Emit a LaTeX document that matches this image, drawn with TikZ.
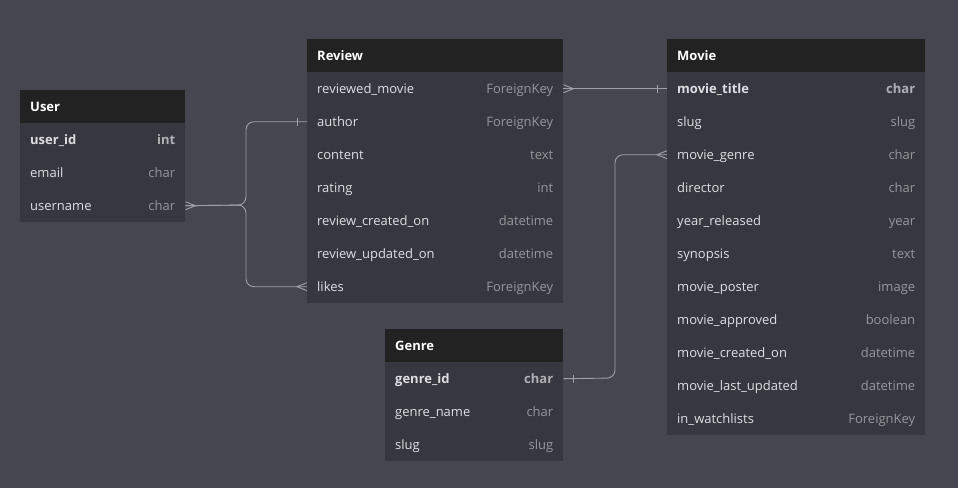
\documentclass[tikz,border=0pt]{standalone}
\usepackage{fontspec}
\setmainfont{Open Sans}
\usetikzlibrary{calc}
\definecolor{bgc}{RGB}{70,70,80}
\definecolor{bodyc}{RGB}{55,55,63}
\definecolor{hdrc}{RGB}{34,34,34}
\definecolor{fieldc}{RGB}{222,222,226}
\definecolor{typec}{RGB}{150,150,156}
\definecolor{keytypec}{RGB}{175,175,180}
\definecolor{linkc}{RGB}{160,160,168}
\tikzset{
  hdr/.style={fill=hdrc, draw=none, minimum height=33pt, inner sep=0pt, anchor=north west},
  rowbox/.style={fill=bodyc, draw=none, minimum height=33pt, inner sep=0pt, anchor=north west},
  txt/.style={inner sep=0pt, text height=9.5pt, text depth=0pt},
  hdrtext/.style={txt, text=white, font=\fontsize{13}{15}\selectfont\bfseries, anchor=west},
  fieldtext/.style={txt, text=fieldc, font=\fontsize{13}{15}\selectfont, anchor=west},
  typetext/.style={txt, text=typec, font=\fontsize{13}{15}\selectfont, anchor=east},
  keyfield/.style={txt, text=fieldc, font=\fontsize{13}{15}\selectfont\bfseries, anchor=west},
  keytype/.style={txt, text=keytypec, font=\fontsize{13}{15}\selectfont\bfseries, anchor=east},
  link/.style={draw=linkc, line width=0.9pt, rounded corners=8pt},
  cardmark/.style={draw=linkc, line width=0.9pt},
}
% header: id, x, y, width, title
\newcommand\erhead[5]{%
  \node[hdr, minimum width=#4pt] (#1) at (#2,#3) {};
  \node[hdrtext] at ($(#1.west)+(10,0)$) {#5};}
% row: id, x, y, width, field, type, fieldstyle, typestyle
\newcommand\errow[8]{%
  \node[rowbox, minimum width=#4pt] (#1) at (#2,#3) {};
  \node[#7] at ($(#1.west)+(10,0)$) {#5};
  \node[#8] at ($(#1.east)+(-10,0)$) {#6};}
\begin{document}
\begin{tikzpicture}[x=1pt,y=-1pt]
\fill[bgc] (0,0) rectangle (958,488);
\useasboundingbox (0,0) rectangle (958,488);

% User
\erhead{user}{20}{90}{165}{User}
\errow{user-id}{20}{123}{165}{user\_id}{int}{keyfield}{keytype}
\errow{user-email}{20}{156}{165}{email}{char}{fieldtext}{typetext}
\errow{user-username}{20}{189}{165}{username}{char}{fieldtext}{typetext}

% Review
\erhead{review}{307}{39}{256}{Review}
\errow{review-movie}{307}{72}{256}{reviewed\_movie}{ForeignKey}{fieldtext}{typetext}
\errow{review-author}{307}{105}{256}{author}{ForeignKey}{fieldtext}{typetext}
\errow{review-content}{307}{138}{256}{content}{text}{fieldtext}{typetext}
\errow{review-rating}{307}{171}{256}{rating}{int}{fieldtext}{typetext}
\errow{review-created}{307}{204}{256}{review\_created\_on}{datetime}{fieldtext}{typetext}
\errow{review-updated}{307}{237}{256}{review\_updated\_on}{datetime}{fieldtext}{typetext}
\errow{review-likes}{307}{270}{256}{likes}{ForeignKey}{fieldtext}{typetext}

% Genre
\erhead{genre}{385}{329}{178}{Genre}
\errow{genre-id}{385}{362}{178}{genre\_id}{char}{keyfield}{keytype}
\errow{genre-name}{385}{395}{178}{genre\_name}{char}{fieldtext}{typetext}
\errow{genre-slug}{385}{428}{178}{slug}{slug}{fieldtext}{typetext}

% Movie
\erhead{movie}{667}{39}{258}{Movie}
\errow{movie-title}{667}{72}{258}{movie\_title}{char}{keyfield}{keytype}
\errow{movie-slug}{667}{105}{258}{slug}{slug}{fieldtext}{typetext}
\errow{movie-genre}{667}{138}{258}{movie\_genre}{char}{fieldtext}{typetext}
\errow{movie-director}{667}{171}{258}{director}{char}{fieldtext}{typetext}
\errow{movie-year}{667}{204}{258}{year\_released}{year}{fieldtext}{typetext}
\errow{movie-synopsis}{667}{237}{258}{synopsis}{text}{fieldtext}{typetext}
\errow{movie-poster}{667}{270}{258}{movie\_poster}{image}{fieldtext}{typetext}
\errow{movie-approved}{667}{303}{258}{movie\_approved}{boolean}{fieldtext}{typetext}
\errow{movie-created}{667}{336}{258}{movie\_created\_on}{datetime}{fieldtext}{typetext}
\errow{movie-updated}{667}{369}{258}{movie\_last\_updated}{datetime}{fieldtext}{typetext}
\errow{movie-watch}{667}{402}{258}{in\_watchlists}{ForeignKey}{fieldtext}{typetext}

% junction points
\coordinate (j1) at (246,205);
\coordinate (j2) at (615,378);

% User -> Review author / likes
\draw[link] (user-username.east) -- (j1) |- (review-author.west);
\draw[link] (user-username.east) -- (j1) |- (review-likes.west);
\draw[cardmark] ($(user-username.east)+(0,-4)$) -- ($(user-username.east)+(10,0)$) -- ($(user-username.east)+(0,4)$);
\draw[cardmark] ($(review-author.west)+(-10,-4)$) -- ($(review-author.west)+(-10,4)$);
\draw[cardmark] ($(review-likes.west)+(0,-4)$) -- ($(review-likes.west)+(-10,0)$) -- ($(review-likes.west)+(0,4)$);

% Review reviewed_movie -> Movie title
\draw[link] (review-movie.east) -- (movie-title.west);
\draw[cardmark] ($(review-movie.east)+(0,-4)$) -- ($(review-movie.east)+(10,0)$) -- ($(review-movie.east)+(0,4)$);
\draw[cardmark] ($(movie-title.west)+(-10,-4)$) -- ($(movie-title.west)+(-10,4)$);

% Genre id -> Movie genre
\draw[link] (genre-id.east) -- (j2) |- (movie-genre.west);
\draw[cardmark] ($(genre-id.east)+(10,-4)$) -- ($(genre-id.east)+(10,4)$);
\draw[cardmark] ($(movie-genre.west)+(0,-4)$) -- ($(movie-genre.west)+(-10,0)$) -- ($(movie-genre.west)+(0,4)$);
\end{tikzpicture}
\end{document}
